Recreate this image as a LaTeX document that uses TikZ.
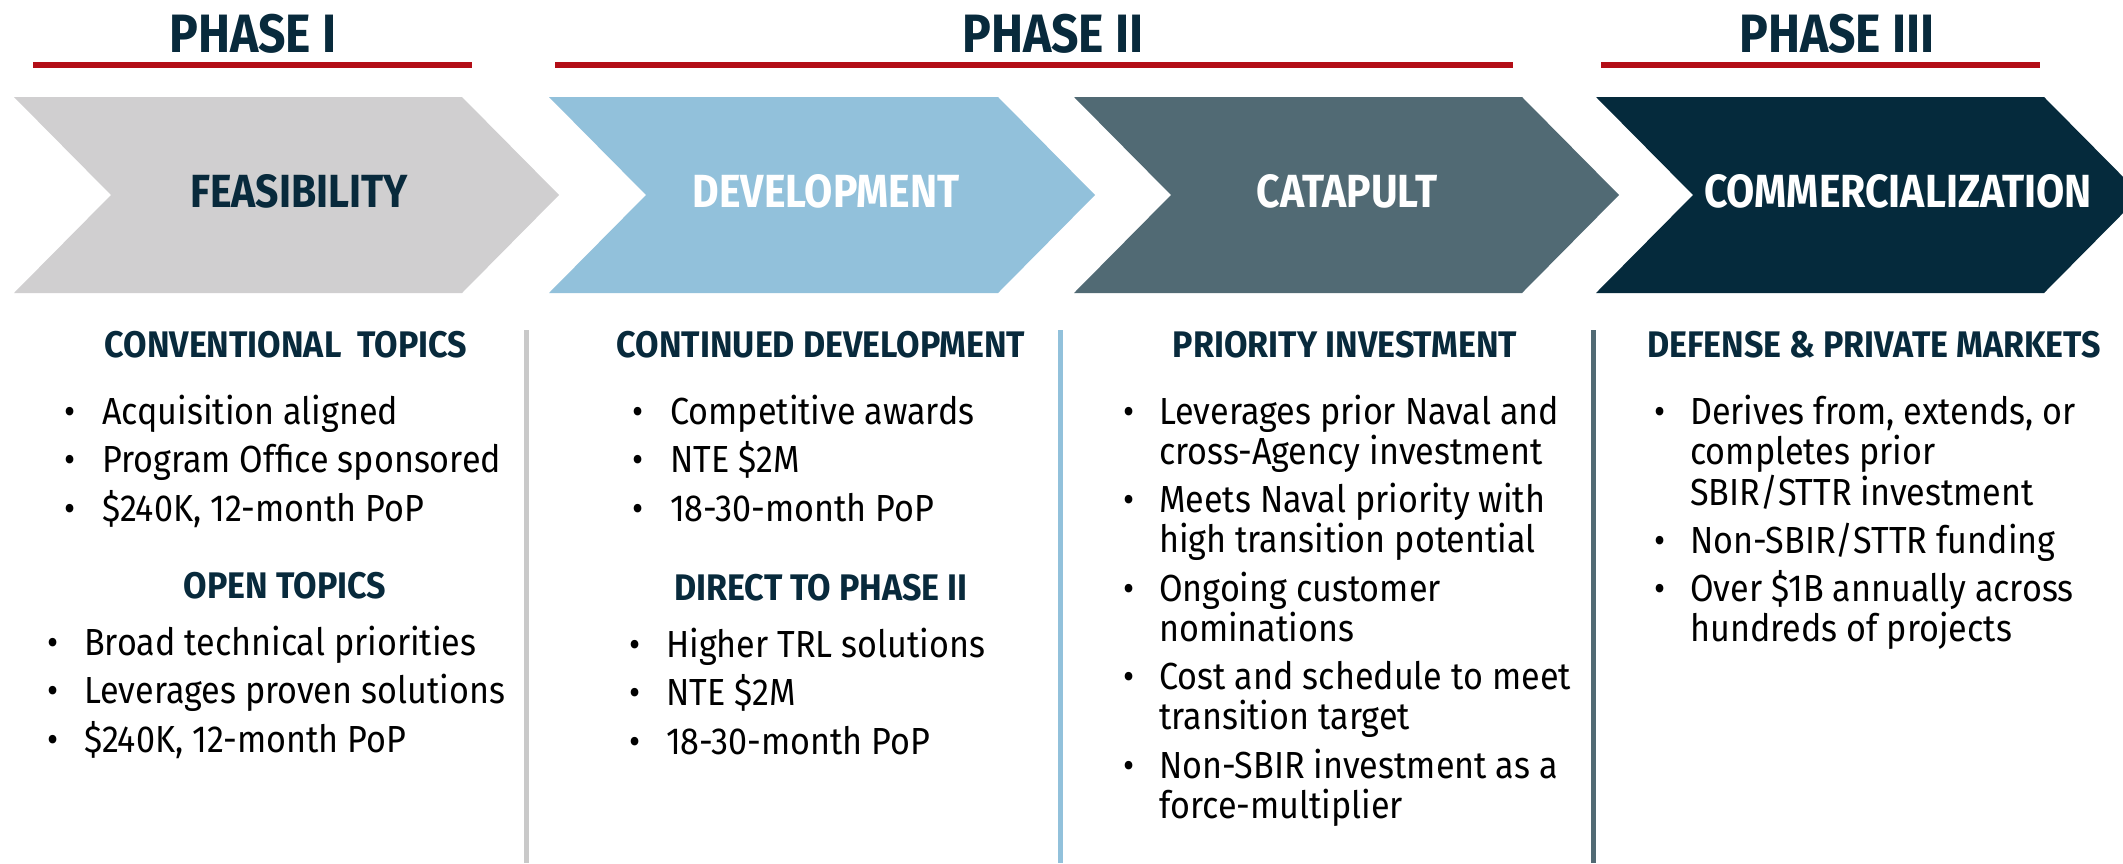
\documentclass[tikz,border=0pt]{standalone}
\usepackage{fontspec}
\setmainfont{Fira Sans}[FakeStretch=0.905]
\newfontfamily\headf{Fira Sans}[FakeStretch=0.92]
\newfontfamily\chevf{Fira Sans}[FakeStretch=0.88]
\newfontfamily\phasef{Fira Sans}[FakeStretch=0.89]
\definecolor{navy}{HTML}{082A3C}
\definecolor{chA}{HTML}{D0CFD0}
\definecolor{chB}{HTML}{92C1DB}
\definecolor{chC}{HTML}{516A74}
\definecolor{chD}{HTML}{052A3C}
\definecolor{redline}{HTML}{B30E17}
\definecolor{sepgray}{HTML}{C9C9C9}
\tikzset{
  phasetitle/.style={font=\phasef\bfseries\fontsize{54}{58}\selectfont, text=navy, anchor=base, inner sep=0pt},
  chevlabel/.style={font=\chevf\bfseries\fontsize{46.5}{50}\selectfont, anchor=base, inner sep=0pt},
  colhead/.style={font=\headf\bfseries\fontsize{37}{40}\selectfont, text=navy, anchor=base, inner sep=0pt},
  bodyline/.style={font=\fontsize{37.7}{40}\selectfont, text=black, anchor=base west, inner sep=0pt},
  dot/.style={font=\fontsize{37.7}{40}\selectfont, text=black, anchor=base, inner sep=0pt},
  redrule/.style={draw=redline, line width=6pt},
  seprule/.style={line width=5pt},
}
\newcommand{\chevron}[3]{% color, left, right
  \fill[#1] (#2,97) -- (#3,97) -- ({#3+97},195) -- (#3,293) -- (#2,293) -- ({#2+97},195) -- cycle;}
\begin{document}
\begin{tikzpicture}[x=1pt,y=-1pt]
\useasboundingbox (0,0) rectangle (2123,863);
\clip (0,0) rectangle (2123,863);
\fill[white] (0,0) rectangle (2123,863);

% phase titles and red rules
\node[phasetitle] (p1) at (253,52) {PHASE I};
\node[phasetitle] (p2) at (1053,52) {PHASE II};
\node[phasetitle] (p3) at (1837,52) {PHASE III};
\coordinate (r1a) at (33,65);   \coordinate (r1b) at (472,65);
\coordinate (r2a) at (555,65);  \coordinate (r2b) at (1513,65);
\coordinate (r3a) at (1601,65); \coordinate (r3b) at (2040,65);
\draw[redrule] (r1a) -- (r1b);
\draw[redrule] (r2a) -- (r2b);
\draw[redrule] (r3a) -- (r3b);

% chevrons
\chevron{chA}{14}{462}
\chevron{chB}{549}{998}
\chevron{chC}{1074}{1522}
\chevron{chD}{1596}{2044}
\node[chevlabel, text=navy] (c1) at (299,207) {FEASIBILITY};
\node[chevlabel, text=white] (c2) at (826,207) {DEVELOPMENT};
\node[chevlabel, text=white] (c3) at (1347,207) {CATAPULT};
\node[chevlabel, text=white] (c4) at (1898,207) {COMMERCIALIZATION};

% separators
\coordinate (s1a) at (526,330); \coordinate (s1b) at (526,863);
\coordinate (s2a) at (1060,330); \coordinate (s2b) at (1060,863);
\coordinate (s3a) at (1593,330); \coordinate (s3b) at (1593,863);
\draw[seprule, sepgray] (s1a) -- (s1b);
\draw[seprule, chB] (s2a) -- (s2b);
\draw[seprule, chC] (s3a) -- (s3b);

% column 1
\node[colhead] (h1) at (286,357) {CONVENTIONAL\ \ TOPICS};
\node[dot] (d11) at (70,424) {•};   \node[bodyline] (t11) at (102,424) {Acquisition aligned};
\node[dot] (d12) at (70,472.5) {•}; \node[bodyline] (t12) at (102,472.5) {Program Office sponsored};
\node[dot] (d13) at (70,521) {•};   \node[bodyline] (t13) at (102,521) {\$240K, 12-month PoP};
\node[colhead] (h2) at (285,598) {OPEN TOPICS};
\node[dot] (d21) at (53,655) {•};   \node[bodyline] (t21) at (84,655) {Broad technical priorities};
\node[dot] (d22) at (53,703.5) {•}; \node[bodyline] (t22) at (84,703.5) {Leverages proven solutions};
\node[dot] (d23) at (53,752) {•};   \node[bodyline] (t23) at (84,752) {\$240K, 12-month PoP};

% column 2
\node[colhead] (h3) at (821,357) {CONTINUED DEVELOPMENT};
\node[dot] (d31) at (638,424) {•};   \node[bodyline] (t31) at (670,424) {Competitive awards};
\node[dot] (d32) at (638,472.5) {•}; \node[bodyline] (t32) at (670,472.5) {NTE \$2M};
\node[dot] (d33) at (638,521) {•};   \node[bodyline] (t33) at (670,521) {18-30-month PoP};
\node[colhead] (h4) at (821,600) {DIRECT TO PHASE II};
\node[dot] (d41) at (635,657) {•};   \node[bodyline] (t41) at (666,657) {Higher TRL solutions};
\node[dot] (d42) at (635,705.5) {•}; \node[bodyline] (t42) at (666,705.5) {NTE \$2M};
\node[dot] (d43) at (635,754) {•};   \node[bodyline] (t43) at (666,754) {18-30-month PoP};

% column 3
\node[colhead] (h5) at (1345,357) {PRIORITY INVESTMENT};
\node[dot] (d51) at (1129,424) {•};
\node[bodyline] (t51a) at (1159,424) {Leverages prior Naval and};
\node[bodyline] (t51b) at (1159,464) {cross-Agency investment};
\node[dot] (d52) at (1129,512.5) {•};
\node[bodyline] (t52a) at (1159,512.5) {Meets Naval priority with};
\node[bodyline] (t52b) at (1159,552.5) {high transition potential};
\node[dot] (d53) at (1129,601) {•};
\node[bodyline] (t53a) at (1159,601) {Ongoing customer};
\node[bodyline] (t53b) at (1159,641) {nominations};
\node[dot] (d54) at (1129,689.5) {•};
\node[bodyline] (t54a) at (1159,689.5) {Cost and schedule to meet};
\node[bodyline] (t54b) at (1159,729.5) {transition target};
\node[dot] (d55) at (1129,778) {•};
\node[bodyline] (t55a) at (1159,778) {Non-SBIR investment as a};
\node[bodyline] (t55b) at (1159,818) {force-multiplier};

% column 4
\node[colhead] (h6) at (1874,357) {DEFENSE \& PRIVATE MARKETS};
\node[dot] (d61) at (1660,424) {•};
\node[bodyline] (t61a) at (1690,424) {Derives from, extends, or};
\node[bodyline] (t61b) at (1690,464.5) {completes prior};
\node[bodyline] (t61c) at (1690,505) {SBIR/STTR investment};
\node[dot] (d62) at (1660,553.5) {•};
\node[bodyline] (t62) at (1690,553.5) {Non-SBIR/STTR funding};
\node[dot] (d63) at (1660,601) {•};
\node[bodyline] (t63a) at (1690,601) {Over \$1B annually across};
\node[bodyline] (t63b) at (1690,641) {hundreds of projects};
\end{tikzpicture}
\end{document}
